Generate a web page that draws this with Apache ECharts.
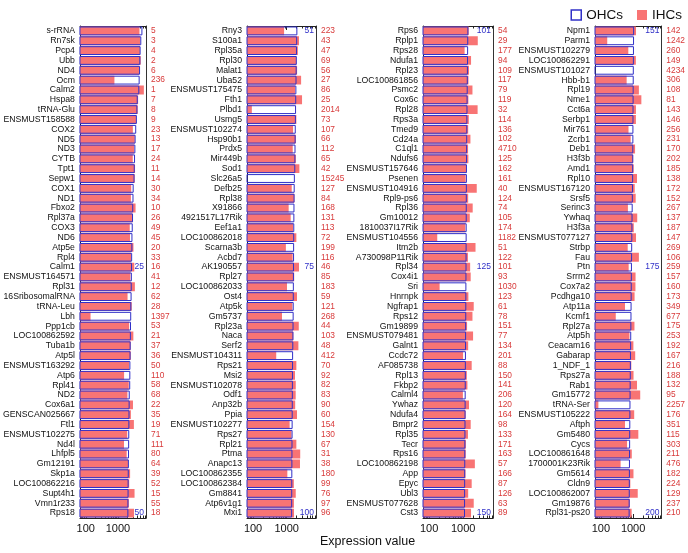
<!DOCTYPE html>
<html><head><meta charset="utf-8">
<script src="https://cdn.jsdelivr.net/npm/echarts@6/dist/echarts.min.js"></script>
<style>html,body{margin:0;padding:0;background:#fff}#c{width:688px;height:553px}</style>
</head><body><div id="c"></div>
<script>
// ---------- data ----------
const genes1 = ['s-rRNA','Rn7sk','Pcp4','Ubb','ND4','Ocm','Calm2','Hspa8','tRNA-Glu','ENSMUST158588','COX2','ND5','ND3','CYTB','Tpt1','Sepw1','COX1','ND1','Fbxo2','Rpl37a','COX3','ND6','Atp5e','Rpl4','Calm1','ENSMUST164571','Rpl31','16SribosomalRNA','tRNA-Leu','Lbh','Ppp1cb','LOC100862592','Tuba1b','Atp5l','ENSMUST163292','Atp6','Rpl41','ND2','Cox6a1','GENSCAN025667','Ftl1','ENSMUST102275','Nd4l','Lhfpl5','Gm12191','Skp1a','LOC100862216','Supt4h1','Vmn1r233','Rps18'];
const ohc1 = [5800,5350,5100,5000,4900,4760,4640,4150,4050,3900,3720,3560,3500,3420,3350,3300,3100,3060,3000,2960,2900,2840,2820,2780,2750,2720,2700,2670,2620,2600,2560,2540,2500,2480,2450,2440,2420,2340,2320,2300,2280,2260,2240,2220,2200,2180,2160,2150,2130,2120];
const ihc1 = [4700,4950,4850,5150,4600,780,6430,4260,4150,3750,2920,3350,3200,2900,3420,3330,2600,2540,3550,2860,2340,2380,3050,2560,3240,2450,3380,2000,2700,141,2240,3030,2500,2520,2230,1560,2180,1980,2950,2540,3150,1950,1550,1880,2080,2400,2250,3300,2200,3180];
const rank1 = [5,3,4,2,6,236,1,7,8,9,23,13,17,24,11,14,30,34,10,26,49,45,20,33,16,41,12,62,28,1397,53,21,37,36,50,110,58,68,22,35,19,71,111,80,64,39,52,15,55,18];

const genes2 = ['Rny3','S100a1','Rpl35a','Rpl30','Malat1','Uba52','ENSMUST175475','Fth1','Plbd1','Usmg5','ENSMUST102274','Hsp90b1','Prdx5','Mir449b','Sod1','Slc26a5','Defb25','Rpl38','X91866','4921517L17Rik','Eef1a1','LOC100862018','Scarna3b','Acbd7','AK190557','Rpl27','LOC100862033','Ost4','Atp5k','Gm5737','Rpl23a','Naca','Serf2','ENSMUST104311','Rps21','Msi2','ENSMUST102078','Odf1','Anp32b','Ppia','ENSMUST102277','Rps27','Rpl21','Ptma','Anapc13','LOC100862355','LOC100862384','Gm8841','Atp6v1g1','Mxi1'];
const ohc2 = [2090,2060,2035,2010,1990,1970,1950,1930,1910,1890,1870,1855,1840,1825,1810,1760,1740,1725,1712,1700,1690,1680,1672,1665,1658,1650,1642,1634,1626,1618,1606,1594,1580,1560,1552,1545,1538,1531,1524,1517,1510,1503,1496,1490,1484,1478,1472,1467,1462,1458];
const ihc2 = [840,2336,2160,1950,2050,2700,1776,2880,92,1950,1560,1890,1520,1880,2400,null,1420,1700,1150,1320,1548,1950,950,1510,2336,1680,1026,2037,1480,728,2300,1580,2240,490,1950,1776,1870,1860,1800,2037,1230,1390,1950,2540,2500,1050,1640,1870,1650,1660];
const rank2 = [223,43,47,69,56,27,86,25,2014,73,107,66,112,65,42,15245,127,84,168,131,113,72,199,116,46,85,183,59,121,268,44,103,48,412,70,92,82,83,90,60,154,130,67,31,38,180,99,76,97,96];

const genes3 = ['Rps6','Rplp1','Rps28','Ndufa1','Rpl23','LOC100861856','Psmc2','Cox6c','Rpl28','Rps3a','Tmed9','Cd24a','C1ql1','Ndufs6','ENSMUST157646','Psenen','ENSMUST104916','Rpl9-ps6','Rpl36','Gm10012','1810037I17Rik','ENSMUST104556','Itm2b','A730098P11Rik','Rpl34','Cox4i1','Sri','Hnrnpk','Ngfrap1','Rps12','Gm19899','ENSMUST079481','Galnt1','Ccdc72','AF085738','Rpl13','Fkbp2','Calml4','Ywhaz','Ndufa4','Bmpr2','Rpl35','Tecr','Rps16','LOC100862198','App','Epyc','Ubl3','ENSMUST077628','Cst3'];
const ohc3 = [1420,1405,1395,1385,1375,1365,1355,1345,1335,1325,1318,1310,1303,1296,1290,1285,1280,1276,1272,1268,1265,1262,1258,1254,1250,1245,1240,1236,1232,1228,1222,1216,1210,1204,1198,1193,1188,1183,1178,1173,1168,1163,1158,1153,1149,1145,1141,1137,1134,1130];
const ihc3 = [1450,2680,1100,1700,1480,1430,1870,1420,2650,1460,1400,1630,1390,1420,1230,1180,2500,1400,1900,1560,1150,173,2300,1380,1600,1660,203,1420,2037,1870,1300,1950,1400,990,1776,1280,1330,980,1480,1180,1660,1380,1200,1190,2200,1170,1776,1400,2037,1700];
const rank3 = [54,29,177,94,109,117,79,119,32,114,136,102,4710,125,162,161,40,124,74,105,174,1182,51,122,101,93,1030,123,61,78,151,77,134,201,88,150,141,206,120,164,98,133,171,163,57,166,87,126,63,89];

const genes4 = ['Npm1','Parm1','ENSMUST102279','LOC100862291','ENSMUST101027','Hbb-b1','Rpl19','Nme1','Cct6a','Serbp1','Mir761','Zcrb1','Deb1','H3f3b','Amd1','Rpl10','ENSMUST167120','Srsf5','Serinc3','Ywhaq','H3f3a','ENSMUST077127','Strbp','Fau','Ptn','Srrm2','Cox7a2','Pcdhga10','Atp11a','Kcmf1','Rpl27a','Atp5h','Ceacam16','Gabarap','1_NDF_1','Rps27a','Rab1','Gm15772','tRNA-Ser','ENSMUST105222','Aftph','Gm5480','Cycs','LOC100861648','1700001K23Rik','Gm5614','Cldn9','LOC100862007','Gm19876','Rpl31-ps20'];
const ohc4 = [1075,1068,1062,1056,1050,1045,1040,1035,1030,1026,1022,1018,1014,1010,1005,1000,990,980,970,960,952,944,936,928,920,914,908,902,896,890,882,874,866,858,852,846,840,834,828,823,818,813,808,803,799,795,791,787,783,780];
const ihc4 = [1230,158,710,1215,null,630,1510,1800,1225,1220,720,840,1150,1000,1040,1320,1120,1200,690,1340,1050,1230,680,1510,728,1190,1180,1110,560,290,1100,770,1020,1160,880,1030,1320,1660,84,1080,560,1450,650,910,410,1026,820,1390,790,900];
const rank4 = [142,1242,260,149,4234,306,108,81,143,146,256,231,170,202,185,138,172,152,267,137,187,147,269,106,259,157,160,173,349,677,175,253,192,167,216,188,132,95,2257,176,351,115,303,211,476,182,224,129,237,210];

const markedRanks = [25,50,51,75,100,101,125,150,151,175,200];
const majorTicks = [100,1000];
const minorTicks = [70,80,90,200,300,400,500,600,700,800,900,2000,3000,4000,5000,6000,7000];
const xTitle = 'Expression value';

// ---------- layout / style ----------
const FONT = "'Liberation Sans', Arial, sans-serif";
const RED = '#f87474', BLUE = '#3030c8', RANKRED = '#d83a3a';
const XMIN = 66, XMAX = 7500;
const panels = [
  {genes:genes1, ohc:ohc1, ihc:ihc1, rank:rank1, left:77, width:69},
  {genes:genes2, ohc:ohc2, ihc:ihc2, rank:rank2, left:247, width:69},
  {genes:genes3, ohc:ohc3, ihc:ihc3, rank:rank3, left:423, width:70},
  {genes:genes4, ohc:ohc4, ihc:ihc4, rank:rank4, left:595, width:68}
];

const grid = [], xAxis = [], yAxis = [], series = [];
panels.forEach((p, g) => {
  grid.push({left:p.left, width:p.width, top:26, height:492, containLabel:false});
  const base = {type:'log', logBase:10, gridIndex:g, min:XMIN, max:XMAX, splitLine:{show:false}};
  const xi = xAxis.length;
  xAxis.push(Object.assign({}, base, {position:'bottom',
    axisLine:{show:true, lineStyle:{color:'#222', width:1}},
    axisTick:{show:true, inside:true, length:4, customValues:majorTicks, lineStyle:{color:'#222'}},
    axisLabel:{show:true, customValues:majorTicks, margin:5, fontSize:11, color:'#111', fontFamily:FONT,
      formatter:v => String(Math.round(v))}}));
  xAxis.push(Object.assign({}, base, {position:'bottom', axisLine:{show:false},
    axisTick:{show:true, inside:true, length:2.5, customValues:minorTicks, lineStyle:{color:'#222'}},
    axisLabel:{show:false}}));
  xAxis.push(Object.assign({}, base, {position:'top',
    axisLine:{show:true, lineStyle:{color:'#222', width:1}},
    axisTick:{show:true, inside:true, length:4, customValues:majorTicks, lineStyle:{color:'#222'}},
    axisLabel:{show:false}}));
  xAxis.push(Object.assign({}, base, {position:'top', axisLine:{show:false},
    axisTick:{show:true, inside:true, length:2.5, customValues:minorTicks, lineStyle:{color:'#222'}},
    axisLabel:{show:false}}));
  const yi = yAxis.length;
  yAxis.push({type:'category', gridIndex:g, data:p.genes, inverse:true, position:'left',
    axisLine:{show:true, lineStyle:{color:'#222'}}, axisTick:{show:false},
    axisLabel:{interval:0, fontSize:8.7, color:'#111', fontFamily:FONT, margin:5}});
  yAxis.push({type:'category', gridIndex:g, data:p.genes, inverse:true, position:'right',
    axisLine:{show:true, lineStyle:{color:'#333'}}, axisTick:{show:false},
    axisLabel:{interval:0, fontSize:8.4, color:RANKRED, margin:5,
      fontFamily:"'Liberation Sans Narrow', 'Arial Narrow', " + FONT,
      formatter:(v, i) => String(p.rank[i])}});
  yAxis.push({type:'category', gridIndex:g, data:p.genes, inverse:true, position:'right',
    axisLine:{show:false}, axisTick:{show:false},
    axisLabel:{interval:0, inside:true, fontSize:8.5, color:BLUE, margin:2, fontFamily:FONT,
      formatter:(v, i) => { const r = g*50 + i + 1; return markedRanks.indexOf(r) >= 0 ? String(r) : ''; }}});
  series.push({name:'IHCs', type:'bar', xAxisIndex:xi, yAxisIndex:yi, data:p.ihc,
    itemStyle:{color:RED}, barCategoryGap:'10%', barGap:'-100%', silent:true, z:2, clip:true});
  series.push({name:'OHCs', type:'bar', xAxisIndex:xi, yAxisIndex:yi, data:p.ohc,
    itemStyle:{color:'rgba(0,0,0,0)', borderColor:BLUE, borderWidth:1}, barCategoryGap:'10%', barGap:'-100%', silent:true, z:3, clip:true});
});

const chart = echarts.init(document.getElementById('c'), null, {renderer:'canvas'});
chart.setOption({
  animation:false,
  backgroundColor:'#fff',
  textStyle:{fontFamily:FONT},
  legend:{orient:'horizontal', right:1, top:3, width:140, itemWidth:10, itemHeight:10, itemGap:14, icon:'rect',
    textStyle:{fontSize:13.5, color:'#111', fontFamily:FONT},
    data:[{name:'OHCs', itemStyle:{color:'#fff', borderColor:BLUE, borderWidth:1.5}},
          {name:'IHCs', itemStyle:{color:RED, borderWidth:0}}]},
  grid, xAxis, yAxis, series,
  graphic:[{type:'text', left:320, top:535, style:{text:xTitle, fontSize:12.5, fill:'#111', fontFamily:FONT}}]
});
</script></body></html>
